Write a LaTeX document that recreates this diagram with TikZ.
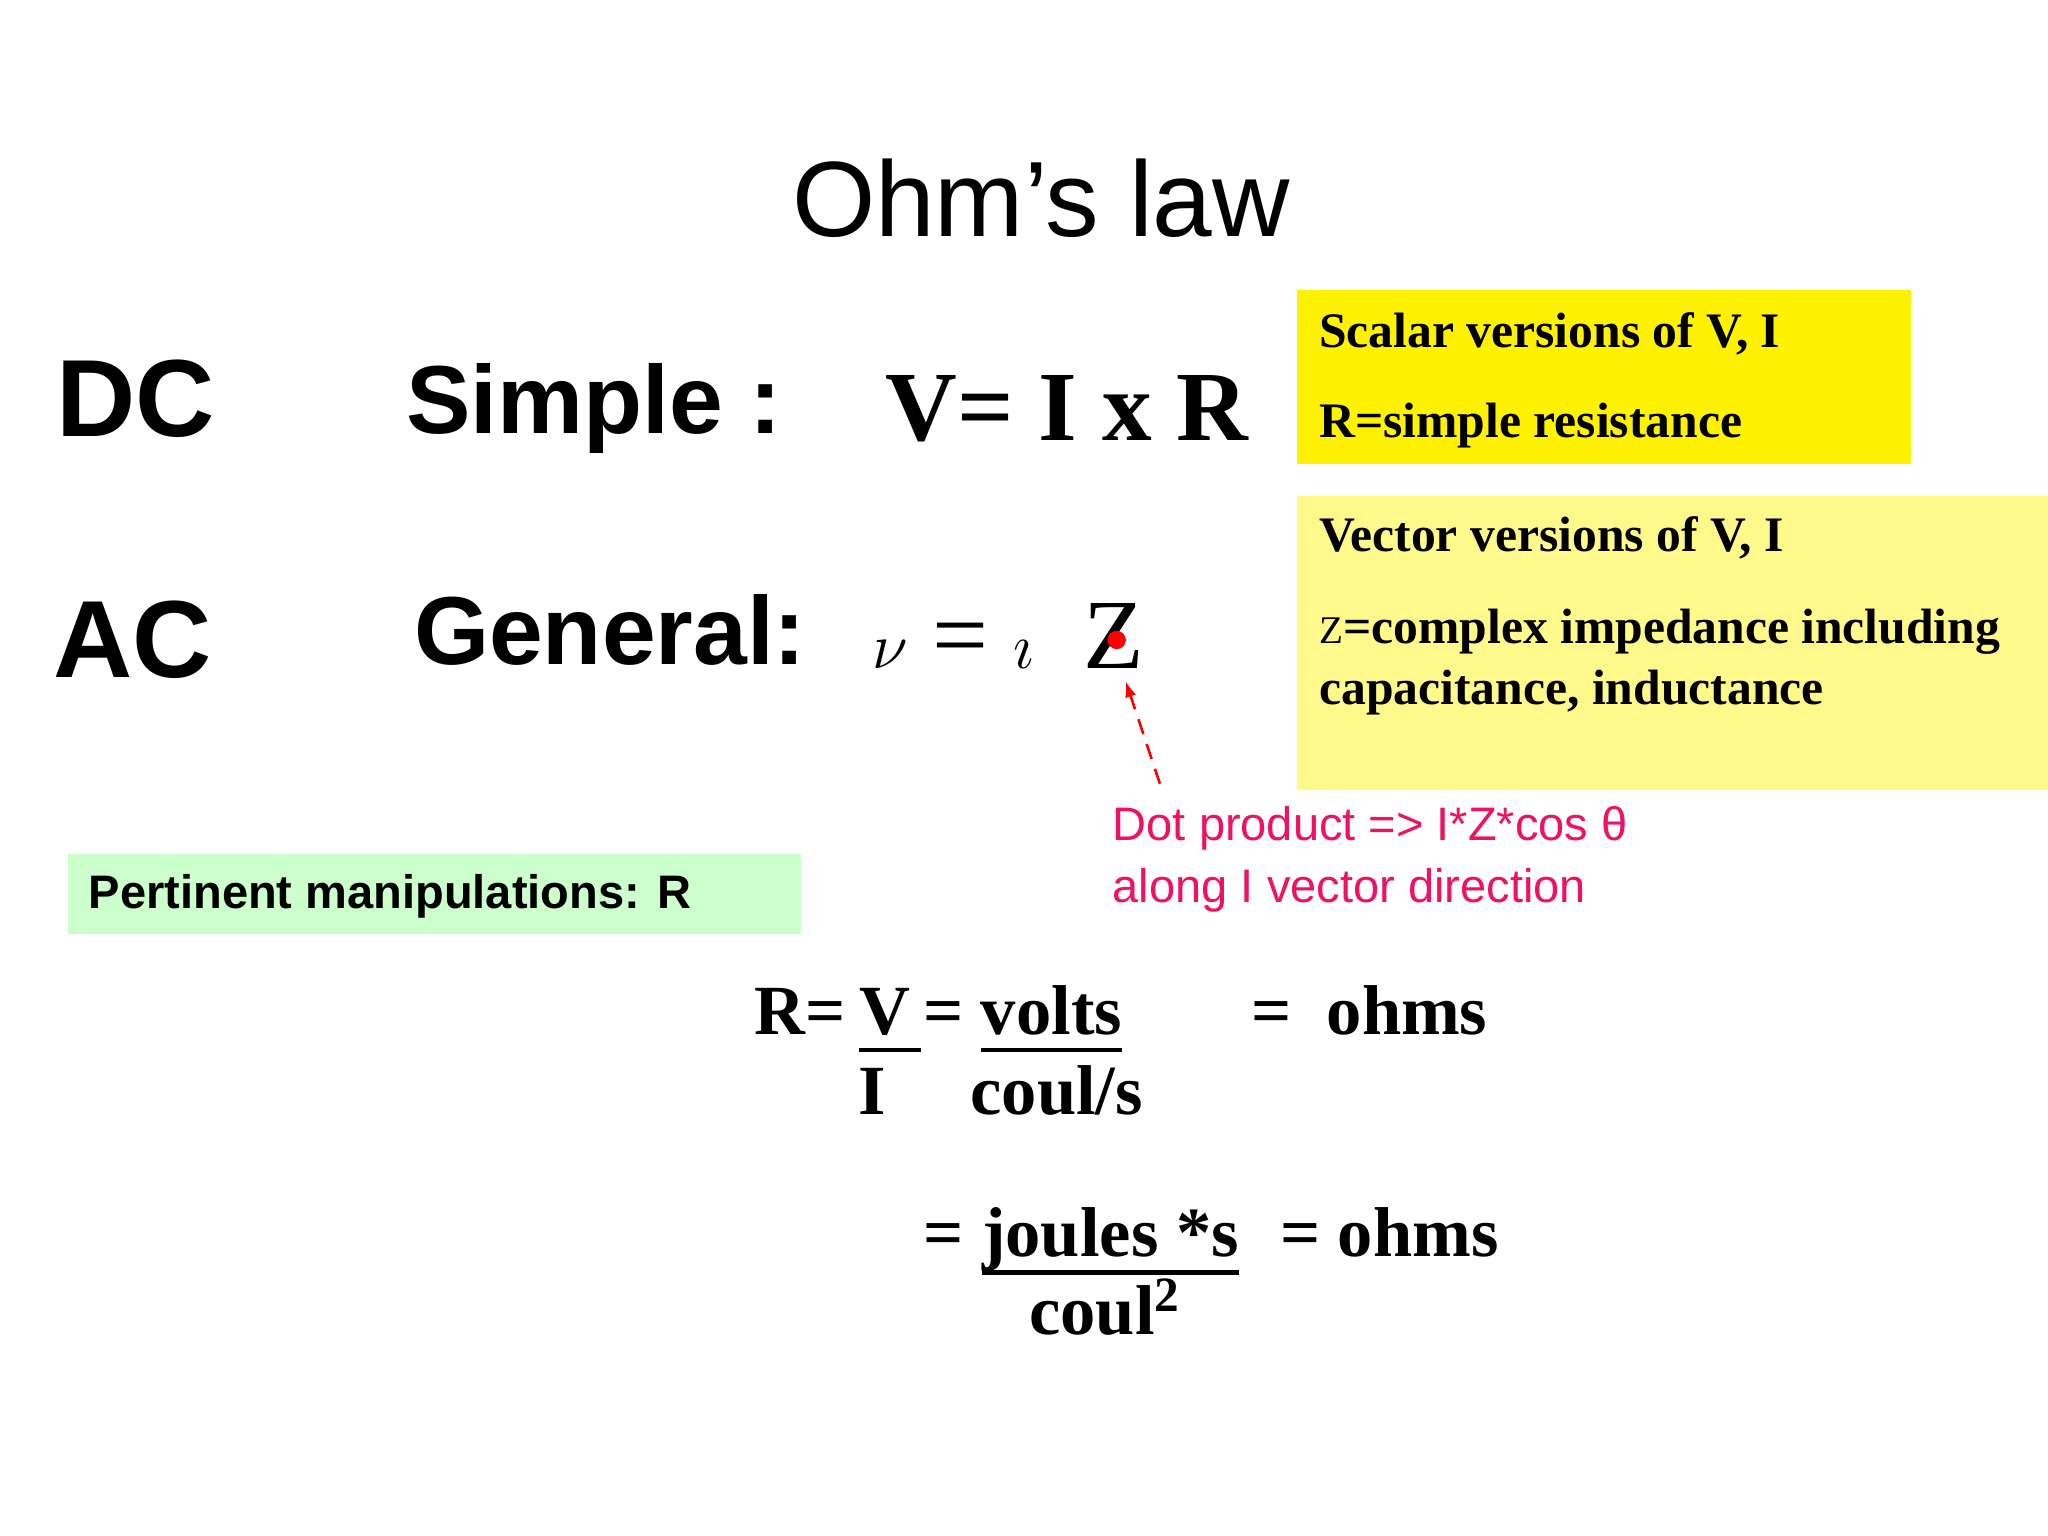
\documentclass[tikz,border=0pt]{standalone}
\usepackage{fontspec}
\setmainfont{Liberation Serif}
\setsansfont{Liberation Sans}
\begin{document}
\begin{tikzpicture}[x=0.5pt,y=-0.5pt,
  txt/.style={inner sep=0pt,outer sep=0pt},
  big/.style={txt,font=\sffamily\bfseries\fontsize{42}{48}\selectfont},
  mid/.style={txt,font=\sffamily\bfseries\fontsize{37}{44}\selectfont},
  eq/.style={txt,font=\rmfamily\bfseries\fontsize{38}{44}\selectfont},
  box/.style={txt,font=\rmfamily\bfseries\fontsize{19}{23}\selectfont},
  man/.style={txt,font=\rmfamily\bfseries\fontsize{27}{32}\selectfont},
  pink/.style={txt,font=\sffamily\fontsize{18}{22}\selectfont,text=dotpink},
  ul/.style={line width=1.8pt}]
\definecolor{dotpink}{HTML}{EE1166}
\useasboundingbox (0,0) rectangle (1568,1176);
\fill[white] (0,0) rectangle (1568,1176);
% boxes
\fill[yellow] (993,222) rectangle (1463,355);
\fill[yellow!45] (993,380) rectangle (1568,605);
\fill[green!20] (52,654) rectangle (613,715);
% title
\node[txt,font=\sffamily\fontsize{41}{48}\selectfont] (title) at (797,152) {Ohm’s law};
\node[big,anchor=west] (dc) at (43,305) {DC};
\node[big,anchor=west] (ac) at (41,490) {AC};
\node[mid,anchor=west] (simple) at (311,313) {Simple :};
\node[mid,anchor=west] (general) at (317,482) {General:};
\node[eq,anchor=west] (vir) at (678,313) {V= I x R};
\node[txt,anchor=west,font=\fontsize{38}{44}\selectfont] (viz) at (668,487) {$\nu$ = $\imath$\ \ Z};
\fill[red] (855,490) circle (7);
% box texts
\node[box,anchor=west] (s1) at (1010,256) {Scalar versions of V, I};
\node[box,anchor=west] (s2) at (1010,326) {R=simple resistance};
\node[box,anchor=west] (v1) at (1010,412) {Vector versions of V, I};
\node[box,anchor=west] (v2) at (1010,484) {{\mdseries\fontsize{15}{18}\selectfont Z}=complex impedance including};
\node[box,anchor=west] (v3) at (1010,530) {capacitance, inductance};
% dot product note
\coordinate (arrtail) at (888,600);
\coordinate (arrhead) at (862,522);
\draw[red,dashed,line width=1pt,-latex,dash pattern=on 6pt off 4pt] (arrtail) -- (arrhead);
\node[pink,anchor=west] (p1) at (852,634) {Dot product => I*Z*cos θ};
\node[pink,anchor=west] (p2) at (852,682) {along I vector direction};
\node[txt,anchor=west,font=\sffamily\bfseries\fontsize{18}{22}\selectfont] (pm) at (68,686) {Pertinent manipulations: R};
% manipulations
\node[man,anchor=base west] (r1) at (578,792) {R=};
\node[man,anchor=base west] (v) at (658,792) {V};
\node[man,anchor=base west] (e1) at (707,792) {=};
\node[man,anchor=base west] (volts) at (751,792) {volts};
\node[man,anchor=base west] (e2) at (958,792) {=~~ohms};
\node[man,anchor=base west] (i) at (657,853) {I};
\node[man,anchor=base west] (cs) at (743,853) {coul/s};
\node[man,anchor=base west] (e3) at (707,962) {=};
\node[man,anchor=base west] (js) at (752,962) {joules *s};
\node[man,anchor=base west] (e4) at (980,962) {= ohms};
\node[man,anchor=base west] (c2) at (788,1022) {coul$^{\mathbf 2}$};
\draw[ul] ([yshift=-6]v.base west) -- ([xshift=4pt,yshift=-6]v.base east);
\draw[ul] ([yshift=-6]volts.base west) -- ([yshift=-6]volts.base east);
\draw[ul] ([yshift=-6]js.base west) -- ([yshift=-6]js.base east);
\end{tikzpicture}
\end{document}
